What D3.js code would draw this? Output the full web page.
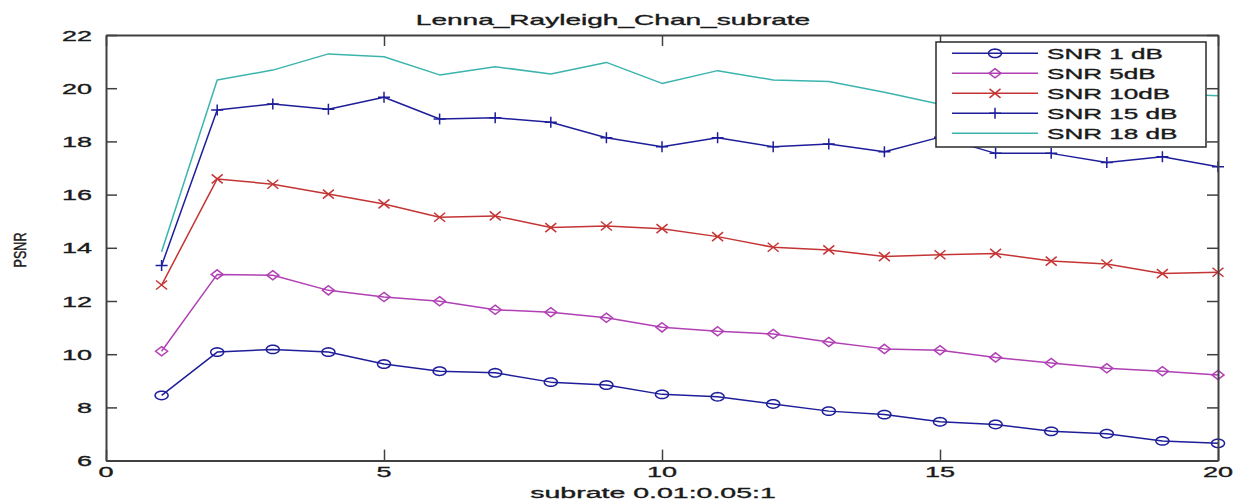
<!DOCTYPE html>
<html>
<head>
<meta charset="utf-8">
<script src="https://cdn.jsdelivr.net/npm/d3@7"></script>
<style>
  html, body { margin: 0; padding: 0; background: #fff; }
  svg { display: block; }
  text { font-family: "Liberation Sans", Arial, sans-serif; fill: #1a1a1a; stroke: #1a1a1a; stroke-width: 0.35px; }
</style>
</head>
<body>
<svg id="chart" width="1235" height="500"></svg>
<script>
// subrate step index (0.01:0.05:1 -> 20 steps)
const subrate = [1, 2, 3, 4, 5, 6, 7, 8, 9, 10, 11, 12, 13, 14, 15, 16, 17, 18, 19, 20];

// PSNR per channel SNR
const snr1  = [8.45, 10.08, 10.18, 10.08, 9.63, 9.36, 9.30, 8.95, 8.84, 8.49, 8.40, 8.13, 7.86, 7.73, 7.46, 7.36, 7.10, 7.01, 6.74, 6.65];
const snr5  = [10.11, 13.00, 12.97, 12.40, 12.15, 11.99, 11.67, 11.58, 11.37, 11.01, 10.86, 10.76, 10.46, 10.20, 10.15, 9.88, 9.67, 9.47, 9.36, 9.22];
const snr10 = [12.60, 16.59, 16.39, 16.02, 15.65, 15.15, 15.20, 14.76, 14.82, 14.72, 14.42, 14.02, 13.92, 13.67, 13.74, 13.79, 13.50, 13.39, 13.03, 13.08];
const snr15 = [13.33, 19.18, 19.41, 19.21, 19.66, 18.84, 18.89, 18.72, 18.14, 17.80, 18.14, 17.80, 17.90, 17.61, 18.16, 17.55, 17.55, 17.21, 17.42, 17.05];
const snr18 = [13.85, 20.31, 20.68, 21.29, 21.18, 20.50, 20.81, 20.53, 20.97, 20.18, 20.66, 20.31, 20.25, 19.85, 19.40, 19.60, 19.85, 19.55, 19.80, 19.72];

const seriesNames = ["SNR 1 dB", "SNR 5dB", "SNR 10dB", "SNR 15 dB", "SNR 18 dB"];
const xTicks = [0, 5, 10, 15, 20];
const yTicks = [6, 8, 10, 12, 14, 16, 18, 20, 22];
const titleText = "Lenna_Rayleigh_Chan_subrate";
const xLabelText = "subrate 0.01:0.05:1";
const yLabelText = "PSNR";

const series = [
  { name: seriesNames[0], values: snr1,  color: "#1e1e9a", marker: "circle" },
  { name: seriesNames[1], values: snr5,  color: "#b040b4", marker: "diamond" },
  { name: seriesNames[2], values: snr10, color: "#c43434", marker: "cross" },
  { name: seriesNames[3], values: snr15, color: "#1e1e9a", marker: "plus" },
  { name: seriesNames[4], values: snr18, color: "#3cb4ae", marker: "none" }
];

const svg = d3.select("#chart");
const plot = { left: 106, right: 1218, top: 35, bottom: 460.6 };
const axisColor = "#404040";
const tickLen = 11;

const x = d3.scaleLinear().domain([0, 20]).range([plot.left, plot.right]);
const y = d3.scaleLinear().domain([6, 22]).range([plot.bottom, plot.top]);

svg.append("rect").attr("width", 1235).attr("height", 500).attr("fill", "#fff");

// horizontally stretched text helper
function stext(g, str, px, py, sx, size, anchor) {
  return g.append("text")
    .attr("transform", `translate(${px},${py}) scale(${sx},1)`)
    .attr("text-anchor", anchor || "middle")
    .style("font-size", size + "px")
    .text(str);
}

// marker shapes (wider than tall)
function markerPath(kind) {
  switch (kind) {
    case "circle": {
      const pts = d3.range(0, 33).map(i => {
        const a = i / 32 * 2 * Math.PI;
        return [6.5 * Math.cos(a), 4.2 * Math.sin(a)];
      });
      return d3.line()(pts) + "Z";
    }
    case "diamond": return "M0,-4.6L6,0L0,4.6L-6,0Z";
    case "cross":   return "M-5.5,-4.5L5.5,4.5M-5.5,4.5L5.5,-4.5";
    case "plus":    return "M-6,0L6,0M0,-5.5L0,5.5";
    default: return "";
  }
}

// series lines + markers
const lineGen = d3.line().x((d, i) => x(subrate[i])).y(d => y(d));
const gSeries = svg.append("g");
series.forEach(s => {
  gSeries.append("path")
    .attr("d", lineGen(s.values))
    .attr("fill", "none")
    .attr("stroke", s.color)
    .attr("stroke-width", 1.5)
    .attr("stroke-linejoin", "round");
  if (s.marker !== "none") {
    gSeries.selectAll(null)
      .data(s.values)
      .join("path")
      .attr("transform", (d, i) => `translate(${x(subrate[i])},${y(d)})`)
      .attr("d", markerPath(s.marker))
      .attr("fill", "none")
      .attr("stroke", s.color)
      .attr("stroke-width", 1.5);
  }
});

// axes: inward ticks on all four sides
const gAxes = svg.append("g");
const bottomAxis = d3.axisBottom(x).tickValues(xTicks).tickSizeInner(-tickLen).tickSizeOuter(0).tickFormat("");
const topAxis = d3.axisTop(x).tickValues(xTicks).tickSizeInner(-tickLen).tickSizeOuter(0).tickFormat("");
const leftAxis = d3.axisLeft(y).tickValues(yTicks).tickSizeInner(-tickLen).tickSizeOuter(0).tickFormat("");
const rightAxis = d3.axisRight(y).tickValues(yTicks).tickSizeInner(-tickLen).tickSizeOuter(0).tickFormat("");

gAxes.append("g").attr("transform", `translate(0,${plot.bottom})`).call(bottomAxis);
gAxes.append("g").attr("transform", `translate(0,${plot.top})`).call(topAxis);
gAxes.append("g").attr("transform", `translate(${plot.left},0)`).call(leftAxis);
gAxes.append("g").attr("transform", `translate(${plot.right},0)`).call(rightAxis);
gAxes.selectAll(".domain").attr("stroke", axisColor).attr("stroke-width", 2);
gAxes.selectAll(".tick line").attr("stroke", axisColor).attr("stroke-width", 1.5);

// tick labels
const gLabels = svg.append("g");
xTicks.forEach(v => stext(gLabels, String(v), x(v), 476.5, 1.8, 15, "middle"));
yTicks.forEach(v => stext(gLabels, String(v), plot.left - 14, y(v) + 5.5, 1.8, 15, "end"));

// title and axis labels
stext(svg, titleText, 613, 25, 1.87, 15, "middle");
stext(svg, xLabelText, 653, 498, 1.9, 15, "middle");
svg.append("text")
  .attr("transform", `translate(26,250) rotate(-90) scale(1,1.35)`)
  .attr("text-anchor", "middle")
  .style("font-size", "12.6px")
  .text(yLabelText);

// legend
const leg = svg.append("g");
leg.append("rect")
  .attr("x", 936).attr("y", 42).attr("width", 270).attr("height", 105)
  .attr("fill", "#fff").attr("stroke", "#2a2a2a").attr("stroke-width", 1.5);
series.forEach((s, i) => {
  const ry = 53.3 + i * 20;
  leg.append("line")
    .attr("x1", 952).attr("x2", 1038).attr("y1", ry).attr("y2", ry)
    .attr("stroke", s.color).attr("stroke-width", 1.5);
  if (s.marker !== "none") {
    leg.append("path")
      .attr("transform", `translate(995,${ry})`)
      .attr("d", markerPath(s.marker))
      .attr("fill", "none").attr("stroke", s.color).attr("stroke-width", 1.5);
  }
  stext(leg, s.name, 1047, ry + 5.5, 1.74, 15, "start");
});
</script>
</body>
</html>
